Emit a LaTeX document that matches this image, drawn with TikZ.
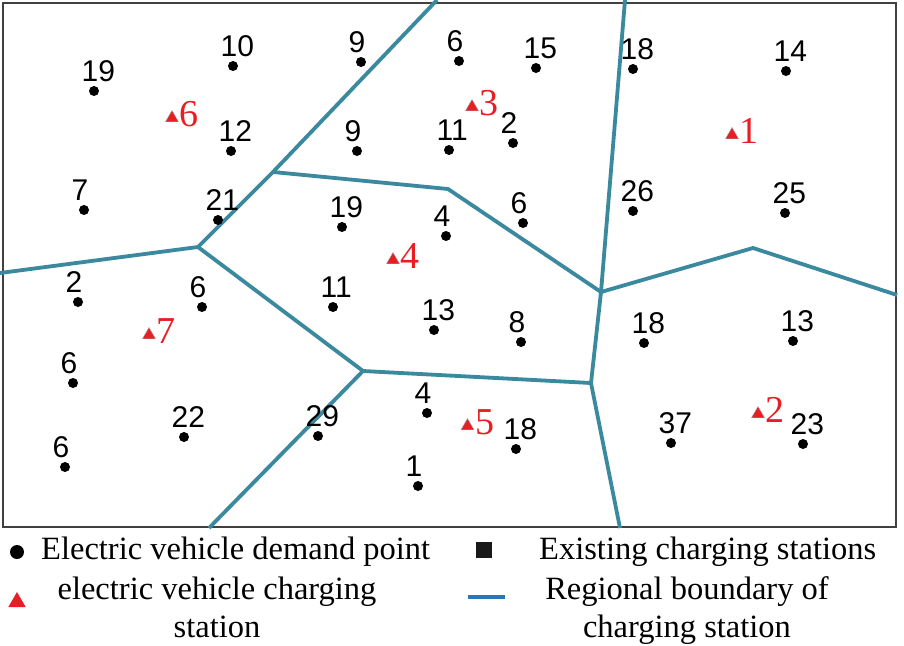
\documentclass[tikz,border=0pt]{standalone}
\usepackage{fontspec}
\setmainfont{Liberation Serif}
\newfontfamily\arialfont{Liberation Sans}
\usetikzlibrary{shapes.geometric}
\definecolor{bndcol}{RGB}{58,137,158}
\definecolor{legblue}{RGB}{46,117,182}
\definecolor{stred}{RGB}{232,30,36}
\definecolor{framecol}{RGB}{64,64,64}
\tikzset{
  dem/.style={circle, fill=black, inner sep=0pt, minimum size=10pt},
  numlab/.style={font=\arialfont\fontsize{30}{36}\selectfont, inner sep=0pt, anchor=base west},
  bnd/.style={draw=bndcol, line width=3.8pt, line join=miter},
  sttri/.style={regular polygon, regular polygon sides=3, fill=stred, draw=gray!70, line width=0.4pt, inner sep=0pt, minimum size=15pt},
  stlab/.style={font=\fontsize{38}{44}\selectfont, text=stred, inner sep=0pt, anchor=base west},
  legtext/.style={font=\fontsize{32.5}{38}\selectfont, inner sep=0pt, align=center},
}
\newcommand\dpt[4]{\node[dem] (#1) at (#2,#3) {}; \node[numlab] (#1t) at ([shift={(-12.5,-9.5)}]#1.center) {#4};}
\newcommand\stn[4]{\node[sttri] (#1) at (#2,#3) {}; \node[stlab] (#1t) at ([shift={(7.5,8.75)}]#1.center) {#4};}
\begin{document}
\begin{tikzpicture}[x=1pt,y=-1pt]
\useasboundingbox (0,0) rectangle (904,645);
\fill[white] (0,0) rectangle (904,645);
% frame
\draw[framecol, line width=2pt] (3,3) rectangle (896,527);
% boundary vertices
\coordinate (T1) at (437,0);
\coordinate (B) at (273,172);
\coordinate (C) at (198,247);
\coordinate (L) at (0,273);
\coordinate (D) at (448,189);
\coordinate (E) at (601,292);
\coordinate (T2) at (625,0);
\coordinate (F) at (753,248);
\coordinate (R) at (897,295);
\coordinate (G) at (591,383);
\coordinate (BT1) at (620,528);
\coordinate (H) at (363,371);
\coordinate (BT2) at (209,528);
\draw[bnd] (T1) -- (B) -- (C) -- (L);
\draw[bnd] (B) -- (D) -- (E);
\draw[bnd] (T2) -- (E) -- (F) -- (R);
\draw[bnd] (E) -- (G) -- (BT1);
\draw[bnd] (G) -- (H) -- (C);
\draw[bnd] (H) -- (BT2);
% demand points
\dpt{p1}{94}{91}{19}
\dpt{p2}{233}{66}{10}
\dpt{p3}{361}{62}{9}
\dpt{p4}{231}{151}{12}
\dpt{p5}{84}{210}{7}
\dpt{p6}{218}{220}{21}
\dpt{p7}{357}{151}{9}
\dpt{p8}{459}{61}{6}
\dpt{p9}{536}{68}{15}
\dpt{p10}{449}{150}{11}
\dpt{p11}{513}{143}{2}
\dpt{p12}{342}{227}{19}
\dpt{p13}{446}{236}{4}
\dpt{p14}{523}{223}{6}
\dpt{p15}{633}{69}{18}
\dpt{p16}{786}{71}{14}
\dpt{p17}{633}{211}{26}
\dpt{p18}{785}{213}{25}
\dpt{p19}{78}{302}{2}
\dpt{p20}{202}{307}{6}
\dpt{p21}{333}{307}{11}
\dpt{p22}{434}{330}{13}
\dpt{p23}{521}{342}{8}
\dpt{p24}{644}{343}{18}
\dpt{p25}{793}{341}{13}
\dpt{p26}{73}{383}{6}
\dpt{p27}{184}{437}{22}
\dpt{p28}{318}{436}{29}
\dpt{p29}{427}{413}{4}
\dpt{p30}{516}{449}{18}
\dpt{p31}{671}{443}{37}
\dpt{p32}{803}{444}{23}
\dpt{p33}{65}{467}{6}
\dpt{p34}{418}{486}{1}
% charging stations
\stn{s1}{732}{135}{1}
\stn{s2}{758}{414}{2}
\stn{s3}{472}{107}{3}
\stn{s4}{393}{260}{4}
\stn{s5}{467.5}{426}{5}
\stn{s6}{172}{118}{6}
\stn{s7}{149}{335}{7}
% legend
\node[circle, fill=black, inner sep=0pt, minimum size=14pt] (lgdot) at (17,552) {};
\node[legtext, anchor=base west] (lgt1) at (41,559) {Electric vehicle demand point};
\node[regular polygon, regular polygon sides=3, fill=stred, inner sep=0pt, minimum size=20pt] (lgtri) at (17,602) {};
\node[legtext, anchor=base] (lgt2) at (217,637) {electric vehicle charging\\station};
\node[rectangle, fill=black!90, inner sep=0pt, minimum size=16pt] (lgsq) at (483.5,549.5) {};
\node[legtext, anchor=base west] (lgt3) at (539,559) {Existing charging stations};
\coordinate (lgl1) at (468,597);
\coordinate (lgl2) at (505,597);
\draw[legblue, line width=4pt] (lgl1) -- (lgl2);
\node[legtext, anchor=base] (lgt4) at (687,637) {Regional boundary of\\charging station};
\end{tikzpicture}
\end{document}
